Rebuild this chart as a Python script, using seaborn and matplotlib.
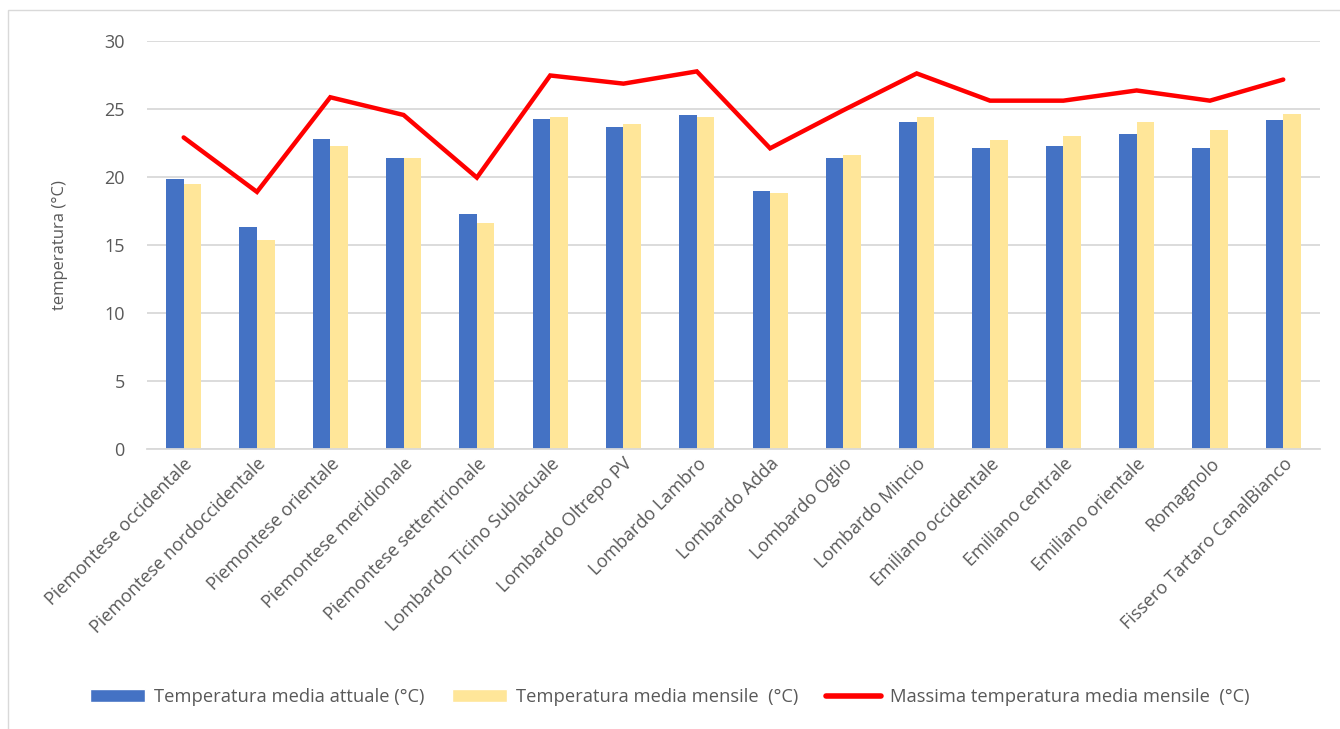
import matplotlib
matplotlib.use("Agg")
import matplotlib.pyplot as plt
import numpy as np
import pandas as pd
import seaborn as sns
from matplotlib.patches import Rectangle
from matplotlib.lines import Line2D

# bacini / sottobacini
bacini = [
    "Piemontese occidentale", "Piemontese nordoccidentale", "Piemontese orientale",
    "Piemontese meridionale", "Piemontese settentrionale", "Lombardo Ticino Sublacuale",
    "Lombardo Oltrepo PV", "Lombardo Lambro", "Lombardo Adda", "Lombardo Oglio",
    "Lombardo Mincio", "Emiliano occidentale", "Emiliano centrale", "Emiliano orientale",
    "Romagnolo", "Fissero Tartaro CanalBianco",
]

# valori (°C)
t_attuale = [19.85, 16.3, 22.8, 21.4, 17.3, 24.25, 23.7, 24.55, 18.95, 21.4,
             24.05, 22.1, 22.25, 23.15, 22.15, 24.2]
t_mensile = [19.5, 15.4, 22.25, 21.4, 16.6, 24.4, 23.9, 24.4, 18.8, 21.6,
             24.4, 22.7, 23.0, 24.0, 23.45, 24.65]
t_max = [22.9, 18.9, 25.85, 24.55, 19.95, 27.45, 26.85, 27.75, 22.1, 24.9,
         27.6, 25.6, 25.6, 26.35, 25.6, 27.15]

lab_att = "Temperatura media attuale (°C)"
lab_men = "Temperatura media mensile  (°C)"
lab_max = "Massima temperatura media mensile  (°C)"

blu = "#4472C4"
giallo = "#FFE699"
rosso = "#FF0000"
grigio = "#595959"

sns.set_theme(style="white")
plt.rcParams["font.family"] = ["Open Sans", "DejaVu Sans"]

df = pd.DataFrame({
    "bacino": bacini * 2,
    "serie": [lab_att] * len(bacini) + [lab_men] * len(bacini),
    "temp": t_attuale + t_mensile,
})

fig = plt.figure(figsize=(13.4, 7.29), dpi=100)
ax = fig.add_axes([0.1097, 0.3837, 0.8753, 0.5604])

sns.barplot(data=df, x="bacino", y="temp", hue="serie", order=bacini,
            palette=[blu, giallo], width=0.48, gap=0, saturation=1,
            errorbar=None, linewidth=0, ax=ax, legend=False)
sns.lineplot(x=np.arange(len(bacini)), y=t_max, color=rosso, linewidth=3.2,
             ax=ax, solid_joinstyle="miter", solid_capstyle="round")

ax.set_xlim(-0.5, len(bacini) - 0.5)
ax.set_ylim(0, 30)
ax.set_yticks(range(0, 31, 5))
ax.yaxis.grid(True, color="#d9d9d9", linewidth=1.3)
ax.set_axisbelow(True)
for s in ["top", "right", "left"]:
    ax.spines[s].set_visible(False)
ax.spines["bottom"].set_color("#d9d9d9")
ax.spines["bottom"].set_linewidth(1.3)

ax.set_xlabel("")
ax.set_ylabel("temperatura (°C)", fontsize=12, color=grigio, labelpad=26)
ax.tick_params(axis="y", length=0, labelsize=13, labelcolor=grigio, pad=16)
ax.tick_params(axis="x", length=0, labelsize=13, labelcolor=grigio, pad=4)
plt.setp(ax.get_xticklabels(), rotation=45, ha="right", rotation_mode="anchor")

handles = [
    Rectangle((0, 0), 1, 1, facecolor=blu),
    Rectangle((0, 0), 1, 1, facecolor=giallo),
    Line2D([0], [0], color=rosso, linewidth=4),
]
fig.legend(handles, [lab_att, lab_men, lab_max], loc="center",
           bbox_to_anchor=(0.5, 0.044), ncol=3, frameon=False,
           fontsize=13.2, labelcolor=grigio, handlelength=3.0,
           handleheight=0.7, handletextpad=0.5, columnspacing=1.5)

# cornice dell'area grafico
fig.patches.append(Rectangle((0.006, -0.01), 1.0, 0.996, transform=fig.transFigure,
                             fill=False, edgecolor="#d9d9d9", linewidth=1))

fig.savefig("out.png", dpi=100)
